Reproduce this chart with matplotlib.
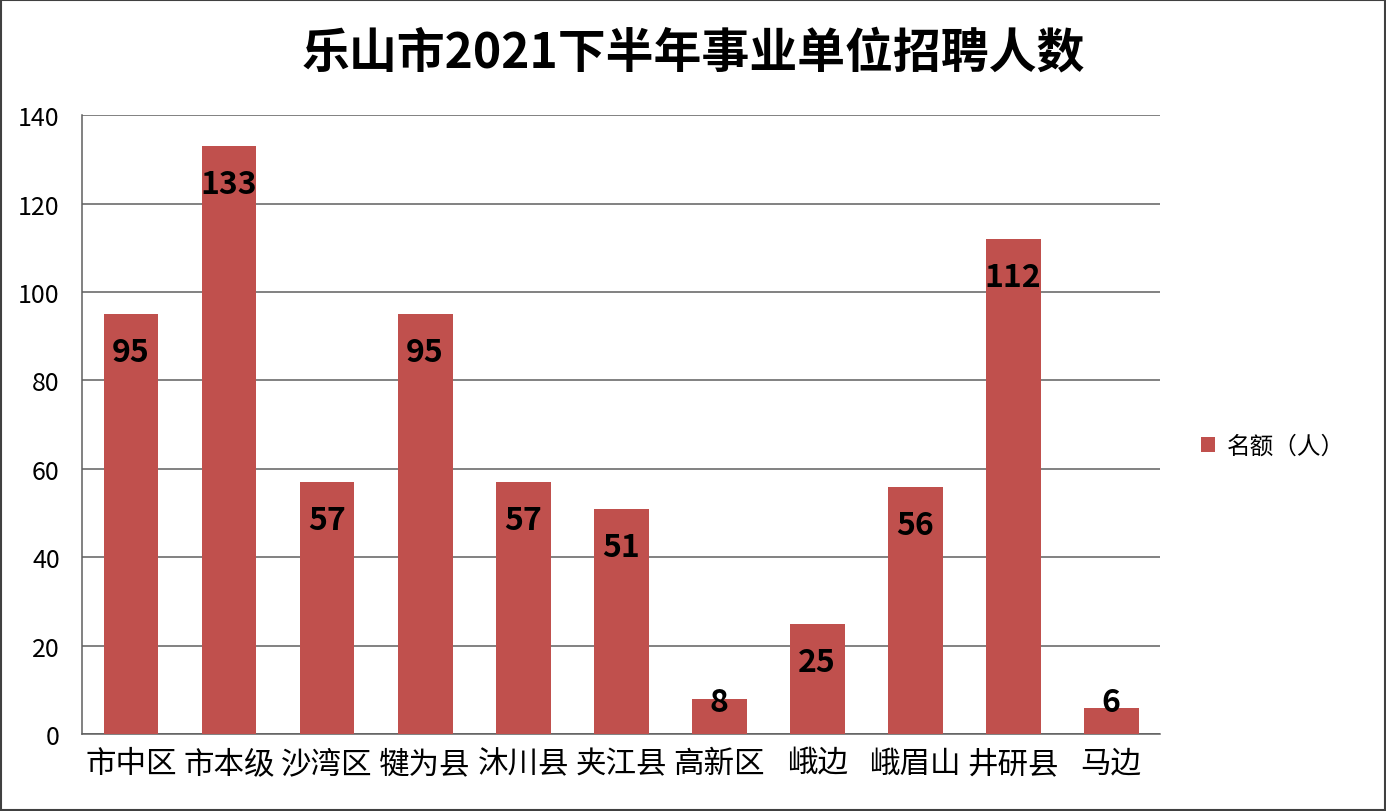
import matplotlib.pyplot as plt
from matplotlib.patches import Rectangle

plt.rcParams['font.family'] = ['Noto Sans CJK SC', 'DejaVu Sans']

districts = ["市中区", "市本级", "沙湾区", "犍为县", "沐川县", "夹江县",
             "高新区", "峨边", "峨眉山", "井研县", "马边"]
counts = [95, 133, 57, 95, 57, 51, 8, 25, 56, 112, 6]
yticks = [0, 20, 40, 60, 80, 100, 120, 140]

bar_color = "#c0504d"
grid_color = "#5f5f5f"

fig = plt.figure(figsize=(13.86, 8.12), dpi=100)
ax = fig.add_axes([0.0592, 0.0948, 0.7778, 0.762])

x = range(len(districts))
bars = ax.bar(x, counts, width=0.56, color=bar_color, label="名额（人）", zorder=3)

# value labels just under the top of each bar (kept above the floor for tiny bars)
for xi, v in zip(x, counts):
    ax.text(xi, max(v - 8.6, 7.3), str(v), ha="center", va="center",
            fontsize=23, fontweight="bold", color="black", zorder=4)

ax.set_xlim(-0.5, len(districts) - 0.5)
ax.set_ylim(0, 140)
ax.set_yticks(yticks)
ax.set_xticks(list(x))
ax.set_xticklabels(districts, fontsize=22)
ax.tick_params(axis="y", labelsize=18, length=0, pad=16)
ax.tick_params(axis="x", length=0, pad=10)

ax.yaxis.grid(True, color=grid_color, linewidth=1.1, zorder=0)
for s in ["top", "right"]:
    ax.spines[s].set_visible(False)
ax.spines["left"].set_color(grid_color)
ax.spines["bottom"].set_color(grid_color)
ax.spines["left"].set_linewidth(1.1)
ax.spines["bottom"].set_linewidth(1.1)

ax.legend(loc="center left", bbox_to_anchor=(1.018, 0.465), frameon=False,
          fontsize=17, handlelength=0.6, handleheight=0.6, handletextpad=0.5)

fig.text(0.5, 0.935, "乐山市2021下半年事业单位招聘人数", ha="center", va="center",
         fontsize=34.5, fontweight="bold")

# thin frame around the whole picture
fig.patches.append(Rectangle((0.001, 0.001), 0.998, 0.998, transform=fig.transFigure,
                             fill=False, edgecolor="#404040", linewidth=1.5))

fig.savefig("out.png", dpi=100)
